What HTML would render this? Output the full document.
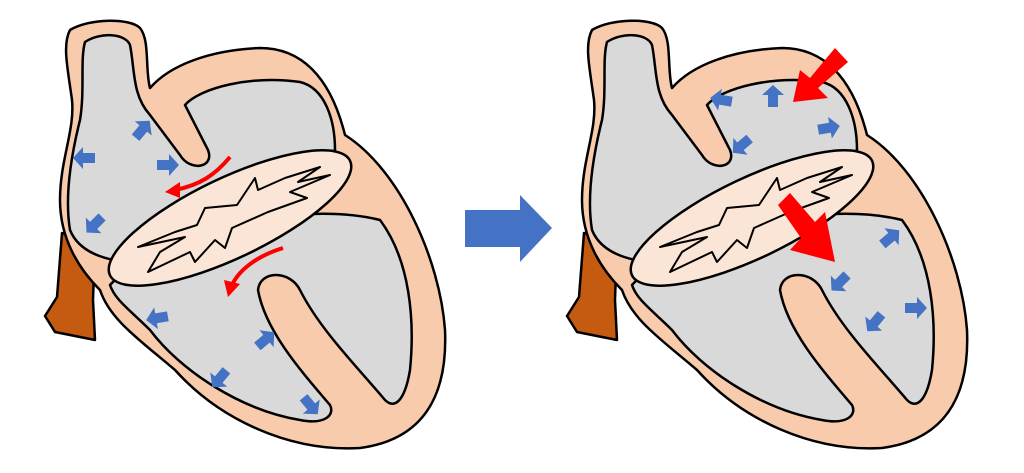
<!DOCTYPE html>
<html><head><meta charset="utf-8"><style>html,body{margin:0;padding:0;background:#fff}svg{display:block}</style></head>
<body>
<svg width="1024" height="473" viewBox="0 0 1024 473" xmlns="http://www.w3.org/2000/svg">
<defs>
<g id="heart" stroke="#000" stroke-width="2.5" stroke-linejoin="round">
  <path d="M62,233 L95,242 L93,300 L95,340 L55,332 L45,316 L57,297 Z" fill="#c55a11"/>
  <path d="M70,30 C90,18 130,18 140,28 C150,40 145,70 150,88 C170,65 210,50 260,48 C300,48 330,75 345,135 C400,170 440,260 445,330 C448,400 420,440 360,448 C290,452 220,420 175,370 C140,340 110,320 100,290 C80,270 60,240 60,200 C60,160 75,130 72,100 C68,70 62,45 70,30 Z" fill="#f8cbad"/>
  <path d="M85,42 C100,32 125,33 130,45 C135,70 132,95 150,115 L180,155 C190,172 215,168 208,150 L185,105 C200,88 250,75 300,82 C325,88 335,120 335,150 L150,265 C110,262 80,255 70,230 C65,200 70,160 80,120 C85,90 80,60 85,42 Z" fill="#d9d9d9"/>
  <path d="M110,285 C160,230 300,200 380,220 C410,260 415,320 410,370 C405,400 395,410 385,400 C360,370 320,330 300,290 C290,270 260,270 258,290 C265,330 300,370 330,405 C335,415 325,425 300,420 C240,410 180,370 150,330 C130,310 115,300 110,285 Z" fill="#d9d9d9"/>
  <ellipse cx="230" cy="218" rx="133" ry="40" transform="rotate(-25.5 230 218)" fill="#fbe5d6"/>
  <polygon points="138,247 185,237 160,252 148,272 190,252 195,262 215,240 225,248 232,228 268,212 307,198 290,192 330,175 298,182 320,167 285,178 258,190 255,178 237,205 205,208 197,225 175,232" fill="#fbe5d6" stroke-width="2"/>
</g>
<path id="ba" d="M-10,-5 L2,-5 L2,-11 L12,0 L2,11 L2,5 L-10,5 Z" fill="#4472c4"/>
</defs>
<use href="#heart"/>
<use href="#heart" transform="translate(522,0)"/>
<g>
<use href="#ba" transform="translate(142,130) rotate(-50)"/>
<use href="#ba" transform="translate(85,158) rotate(180)"/>
<use href="#ba" transform="translate(167,165)"/>
<use href="#ba" transform="translate(95,224) rotate(135)"/>
<use href="#ba" transform="translate(158,318) rotate(170)"/>
<use href="#ba" transform="translate(265,340) rotate(-40)"/>
<use href="#ba" transform="translate(220,378) rotate(130)"/>
<use href="#ba" transform="translate(310,405) rotate(50)"/>
<use href="#ba" transform="translate(722,100) rotate(190)"/>
<use href="#ba" transform="translate(773,97) rotate(-90)"/>
<use href="#ba" transform="translate(828,128) rotate(-10)"/>
<use href="#ba" transform="translate(742,145) rotate(140)"/>
<use href="#ba" transform="translate(890,238) rotate(-40)"/>
<use href="#ba" transform="translate(840,282) rotate(135)"/>
<use href="#ba" transform="translate(915,308)"/>
<use href="#ba" transform="translate(875,322) rotate(130)"/>
</g>
<path d="M230,157 C215,175 200,185 175,190" fill="none" stroke="#f00" stroke-width="4"/>
<polygon points="165,192 180,182 180,198" fill="#f00"/>
<path d="M283,248 C260,255 240,268 232,285" fill="none" stroke="#f00" stroke-width="4"/>
<polygon points="228,297 224,280 240,284" fill="#f00"/>
<polygon points="465,210 520,210 520,195 552,228 520,262 520,247 465,247" fill="#4472c4"/>
<polygon points="835,48 848,62 818,88 828,98 793,102 800,70 810,78" fill="#f00"/>
<polygon points="778,205 790,193 815,222 825,212 835,262 790,250 801,238" fill="#f00"/>
</svg>
</body></html>
